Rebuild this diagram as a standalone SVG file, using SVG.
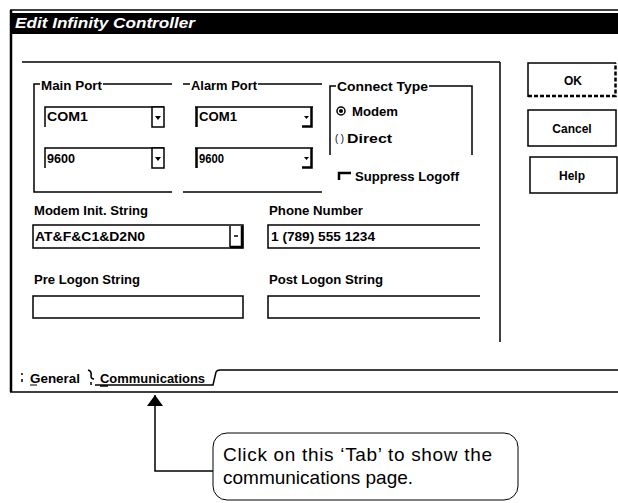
<svg xmlns="http://www.w3.org/2000/svg" width="618" height="503" viewBox="0 0 618 503">
  <style>
    .ln { stroke: #000; stroke-width: 1.5; fill: none; }
    .thk { stroke: #000; stroke-width: 2.5; fill: none; }
    .box { stroke: #000; stroke-width: 1.5; fill: #fff; }
    .ui { font-family: "Liberation Sans", Arial, sans-serif; font-size: 12px; font-weight: bold; fill: #000; }
    .btn { font-family: "Liberation Sans", Arial, sans-serif; font-size: 12px; font-weight: bold; fill: #000; text-anchor: middle; }
    .note { font-family: "Liberation Sans", Arial, sans-serif; font-size: 19px; fill: #000; }
  </style>
  <defs>
    <marker id="arrowhead" markerWidth="11" markerHeight="16" refX="11" refY="8" orient="auto" markerUnits="userSpaceOnUse" viewBox="0 0 11 16">
      <path d="M0,0 L11,8 L0,16 Z" fill="#000"/>
    </marker>
  </defs>
  <rect width="618" height="503" fill="#fff"/>

  <!-- dialog window frame and title bar -->
  <g id="window">
    <line class="ln" x1="10" y1="10" x2="618" y2="10"/>
    <line class="thk" x1="11" y1="10" x2="11" y2="392"/>
    <rect x="12" y="13" width="606" height="21" fill="#000"/>
    <text x="15" y="28" font-family="'Liberation Sans', Arial, sans-serif" font-size="15" font-weight="bold" font-style="italic" fill="#fff" textLength="180" lengthAdjust="spacingAndGlyphs">Edit Infinity Controller</text>
    <line class="ln" x1="22" y1="62" x2="500" y2="62"/>
    <line class="ln" x1="500" y1="62" x2="500" y2="342"/>
    <line class="ln" x1="10" y1="392" x2="618" y2="392"/>
  </g>

  <!-- Main Port group -->
  <g id="main-port">
    <path class="ln" d="M40,84 H34 V192 H172 M103,84 H172"/>
    <text class="ui" x="41" y="90" textLength="61" lengthAdjust="spacingAndGlyphs">Main Port</text>
    <path class="ln" d="M45,127 V107 H164"/>
    <rect class="box" x="152" y="107" width="12" height="20"/>
    <path d="M155,116 H161 L158,120 Z" fill="#000"/>
    <text class="ui" x="47" y="121" textLength="41" lengthAdjust="spacingAndGlyphs">COM1</text>
    <path class="ln" d="M45,168 V148 H164"/>
    <rect class="box" x="152" y="148" width="12" height="20"/>
    <path d="M155,157 H161 L158,161 Z" fill="#000"/>
    <text class="ui" x="47" y="163" textLength="28" lengthAdjust="spacingAndGlyphs">9600</text>
  </g>

  <!-- Alarm Port group -->
  <g id="alarm-port">
    <path class="ln" d="M183,84 H190 M258,84 H322 M183,192 H322"/>
    <text class="ui" x="191" y="90" textLength="66" lengthAdjust="spacingAndGlyphs">Alarm Port</text>
    <line class="ln" x1="195" y1="107" x2="313" y2="107"/>
    <line class="thk" x1="196.5" y1="107" x2="196.5" y2="127"/>
    <path class="thk" d="M302,126.5 H311.5 V107"/>
    <path d="M304,116 H309 L306.5,119 Z" fill="#000"/>
    <text class="ui" x="199" y="121" textLength="38" lengthAdjust="spacingAndGlyphs">COM1</text>
    <line class="ln" x1="195" y1="148" x2="313" y2="148"/>
    <line class="thk" x1="196.5" y1="148" x2="196.5" y2="168"/>
    <path class="thk" d="M302,167.5 H311.5 V148"/>
    <path d="M304,157 H309 L306.5,160 Z" fill="#000"/>
    <text class="ui" x="199" y="163" textLength="25" lengthAdjust="spacingAndGlyphs">9600</text>
  </g>

  <!-- Connect Type group -->
  <g id="connect-type">
    <path class="ln" d="M330,155 V86 H336 M429,86 H472 V155"/>
    <text class="ui" x="337" y="91" textLength="91" lengthAdjust="spacingAndGlyphs">Connect Type</text>
    <circle cx="341" cy="111" r="4" fill="none" stroke="#000" stroke-width="1.5"/>
    <circle cx="341" cy="111" r="2" fill="#000"/>
    <text class="ui" x="352" y="116" textLength="46" lengthAdjust="spacingAndGlyphs">Modem</text>
    <text x="335" y="142" font-family="'Liberation Sans', Arial, sans-serif" font-size="10" fill="#000" textLength="9" lengthAdjust="spacingAndGlyphs">( )</text>
    <text class="ui" x="347" y="143" textLength="45" lengthAdjust="spacingAndGlyphs">Direct</text>
  </g>

  <!-- Suppress Logoff checkbox -->
  <g id="suppress-logoff">
    <path class="thk" d="M339,180 V173 H351"/>
    <text class="ui" x="355" y="181" textLength="104" lengthAdjust="spacingAndGlyphs">Suppress Logoff</text>
  </g>

  <!-- Buttons -->
  <g id="btn-ok">
    <path class="ln" d="M616,63 H528 V97"/>
    <path class="thk" d="M528,96 H615.5 V63" stroke-dasharray="4 2"/>
    <text class="btn" x="573" y="85">OK</text>
  </g>
  <g id="btn-cancel">
    <rect class="box" x="528" y="110" width="88" height="36"/>
    <text class="btn" x="572" y="133">Cancel</text>
  </g>
  <g id="btn-help">
    <rect class="box" x="530" y="157" width="87" height="36"/>
    <text class="btn" x="572" y="180">Help</text>
  </g>

  <!-- Modem init string -->
  <g id="modem-init">
    <text class="ui" x="34" y="215" textLength="114" lengthAdjust="spacingAndGlyphs">Modem Init. String</text>
    <rect class="box" x="33" y="225" width="210" height="23"/>
    <path class="ln" d="M230,226 V247"/>
    <path class="thk" d="M230,247 H242 V226"/>
    <path d="M234,236 H238" stroke="#000" stroke-width="1.5"/>
    <text class="ui" x="35" y="241" textLength="110" lengthAdjust="spacingAndGlyphs">AT&amp;F&amp;C1&amp;D2N0</text>
  </g>

  <!-- Phone number -->
  <g id="phone-number">
    <text class="ui" x="269" y="215" textLength="94" lengthAdjust="spacingAndGlyphs">Phone Number</text>
    <path class="ln" d="M480,225 H268 V248 H480"/>
    <text class="ui" x="271" y="241" textLength="104" lengthAdjust="spacingAndGlyphs">1 (789) 555 1234</text>
  </g>

  <!-- Pre logon string -->
  <g id="pre-logon">
    <text class="ui" x="34" y="284" textLength="106" lengthAdjust="spacingAndGlyphs">Pre Logon String</text>
    <rect class="box" x="33" y="296" width="210" height="22"/>
  </g>

  <!-- Post logon string -->
  <g id="post-logon">
    <text class="ui" x="269" y="284" textLength="114" lengthAdjust="spacingAndGlyphs">Post Logon String</text>
    <path class="ln" d="M480,296 H268 V318 H480"/>
  </g>

  <!-- Tab strip -->
  <g id="tabs">
    <path class="ln" d="M22,373 V375 M22,379 V382" />
    <text class="ui" x="30" y="383" textLength="50" lengthAdjust="spacingAndGlyphs">General</text>
    <line x1="30" y1="385" x2="37" y2="385" stroke="#000" stroke-width="1"/>
    <path class="ln" d="M88,370 Q92,371 91,376 Q91,379 94,379 M91,382 V385"/>
    <text class="ui" x="100" y="383" textLength="105" lengthAdjust="spacingAndGlyphs">Communications</text>
    <path class="ln" d="M95,385 H213 L216,372 Q217,370 220,370 H618"/>
    <line x1="100" y1="386" x2="108" y2="386" stroke="#000" stroke-width="1.5"/>
  </g>

  <!-- Connector from callout to tab -->
  <g id="connectors">
    <path class="ln" d="M213,471 H155 V395" marker-end="url(#arrowhead)"/>
  </g>

  <!-- Callout -->
  <g id="callout">
    <rect x="213" y="433" width="305" height="67" rx="14" ry="14" fill="#fff" stroke="#000" stroke-width="1"/>
    <text class="note" x="223" y="461" textLength="269" lengthAdjust="spacing">Click on this ‘Tab’ to show the</text>
    <text class="note" x="223" y="484">communications page.</text>
  </g>
</svg>
